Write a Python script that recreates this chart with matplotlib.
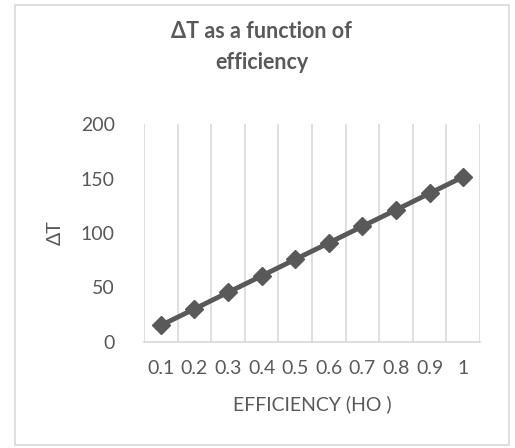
import numpy as np
from matplotlib import pyplot as plt
from matplotlib.patches import Rectangle

plt.rcParams["font.family"] = ["Lato", "DejaVu Sans"]

efficiency = ["0.1", "0.2", "0.3", "0.4", "0.5", "0.6", "0.7", "0.8", "0.9", "1"]
delta_t = [15.2, 30.3, 45.5, 60.6, 75.8, 90.9, 106.1, 121.2, 136.4, 151.5]

grey = "#595959"
grid = "#d9d9d9"

fig = plt.figure(figsize=(5.15, 4.48), dpi=100)
ax = fig.add_axes([144 / 515, 1 - 342 / 448, (480 - 144) / 515, (342 - 124) / 448])

# chart border
fig.patches.append(Rectangle((15 / 515, 3 / 448), 494 / 515, 440 / 448,
                             transform=fig.transFigure, fill=False,
                             edgecolor=grid, linewidth=1.2))

x = np.arange(len(efficiency))
ax.plot(x, delta_t, color=grey, linewidth=3.5, marker="D", markersize=9,
        markerfacecolor=grey, markeredgecolor=grey, zorder=3)

ax.set_xlim(-0.5, len(efficiency) - 0.5)
ax.set_ylim(0, 200)
ax.set_yticks([0, 50, 100, 150, 200])
ax.set_xticks(x)
ax.set_xticklabels(efficiency)

# vertical gridlines at category boundaries
for b in np.arange(-0.5, len(efficiency), 1):
    ax.axvline(b, color=grid, linewidth=1.2, zorder=1)

for s in ["top", "right", "left"]:
    ax.spines[s].set_visible(False)
ax.spines["bottom"].set_color(grid)
ax.spines["bottom"].set_linewidth(1.2)

ax.tick_params(axis="both", length=0, colors=grey, labelsize=14)
ax.tick_params(axis="y", pad=21)
ax.tick_params(axis="x", pad=13)

ax.set_ylabel("ΔT", color=grey, fontsize=14, labelpad=12)
ax.set_xlabel("EFFICIENCY (HO )", color=grey, fontsize=14, labelpad=13)

fig.text(0.508, 1 - 47 / 448, "ΔT as a function of\nefficiency", ha="center", va="center",
         fontsize=15.5, fontweight="bold", color=grey, linespacing=1.6)

fig.savefig("out.png", dpi=100)
